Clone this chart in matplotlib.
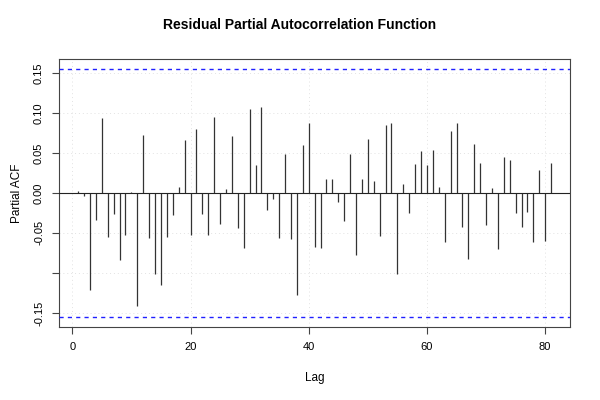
import matplotlib
matplotlib.use("Agg")
import matplotlib.pyplot as plt
import numpy as np

plt.rcParams['font.family'] = ['Liberation Sans', 'DejaVu Sans']

# partial autocorrelations, lags 1..81
lags = list(range(1, 82))
pacf = [0.002, -0.004, -0.122, -0.034, 0.094, -0.055, -0.026, -0.084, -0.053, 0.001,
        -0.142, 0.0725, -0.057, -0.102, -0.115, -0.055, -0.0275, 0.008, 0.066, -0.053,
        0.080, -0.026, -0.053, 0.095, -0.039, 0.005, 0.071, -0.044, -0.069, 0.105,
        0.035, 0.108, -0.021, -0.0075, -0.056, 0.049, -0.0575, -0.128, 0.0595, 0.088,
        -0.0675, -0.069, 0.018, 0.0175, -0.011, -0.035, 0.049, -0.078, 0.018, 0.068,
        0.015, -0.054, 0.0846, 0.088, -0.102, 0.011, -0.025, 0.036, 0.0525, 0.035,
        0.054, 0.008, -0.061, 0.077, 0.087, -0.043, -0.083, 0.061, 0.0375, -0.040,
        0.0067, -0.070, 0.045, 0.041, -0.025, -0.043, -0.0245, -0.062, 0.029, -0.060,
        0.037]
conf = 0.155

xticks = [0, 20, 40, 60, 80]
yticks = [-0.15, -0.10, -0.05, 0.00, 0.05, 0.10, 0.15]
ytick_labels = ["-0.15", "", "-0.05", "0.00", "0.05", "0.10", "0.15"]

fig = plt.figure(figsize=(6, 4), dpi=100)
ax = fig.add_axes([0.0988, 0.183, 0.8512, 0.6695])

# R-style light grid
for x in xticks:
    ax.axvline(x, color="#e2e2e2", linestyle=(0, (1, 3)), linewidth=0.7, zorder=0)
for y in yticks:
    ax.axhline(y, color="#e2e2e2", linestyle=(0, (1, 3)), linewidth=0.7, zorder=0)

ax.vlines(lags, 0, pacf, color="#333333", linewidth=0.9, zorder=2)
ax.axhline(0, color="#222222", linewidth=0.8, zorder=3)
for c in (conf, -conf):
    ax.plot([-2.2, 84.2], [c, c], color="#2020ff", linestyle=(0, (3, 3)),
            linewidth=1.0, zorder=3, solid_capstyle="butt", dash_capstyle="butt")

ax.set_xlim(-2.2, 84.2)
ax.set_ylim(-0.1674, 0.1674)
ax.set_xticks(xticks)
ax.set_yticks(yticks)
ax.set_yticklabels(ytick_labels, rotation=90, va="center")
ax.tick_params(labelsize=8, length=5, width=0.8, pad=6, color="#444444")

for s in ax.spines.values():
    s.set_color("#444444")
    s.set_linewidth(0.8)

ax.set_xlabel("Lag", fontsize=8.5, labelpad=14)
ax.set_ylabel("Partial ACF", fontsize=8.5, labelpad=8)
fig.suptitle("Residual Partial Autocorrelation Function", fontsize=10, fontweight="bold", y=0.955)

fig.savefig("out.png", dpi=100)
